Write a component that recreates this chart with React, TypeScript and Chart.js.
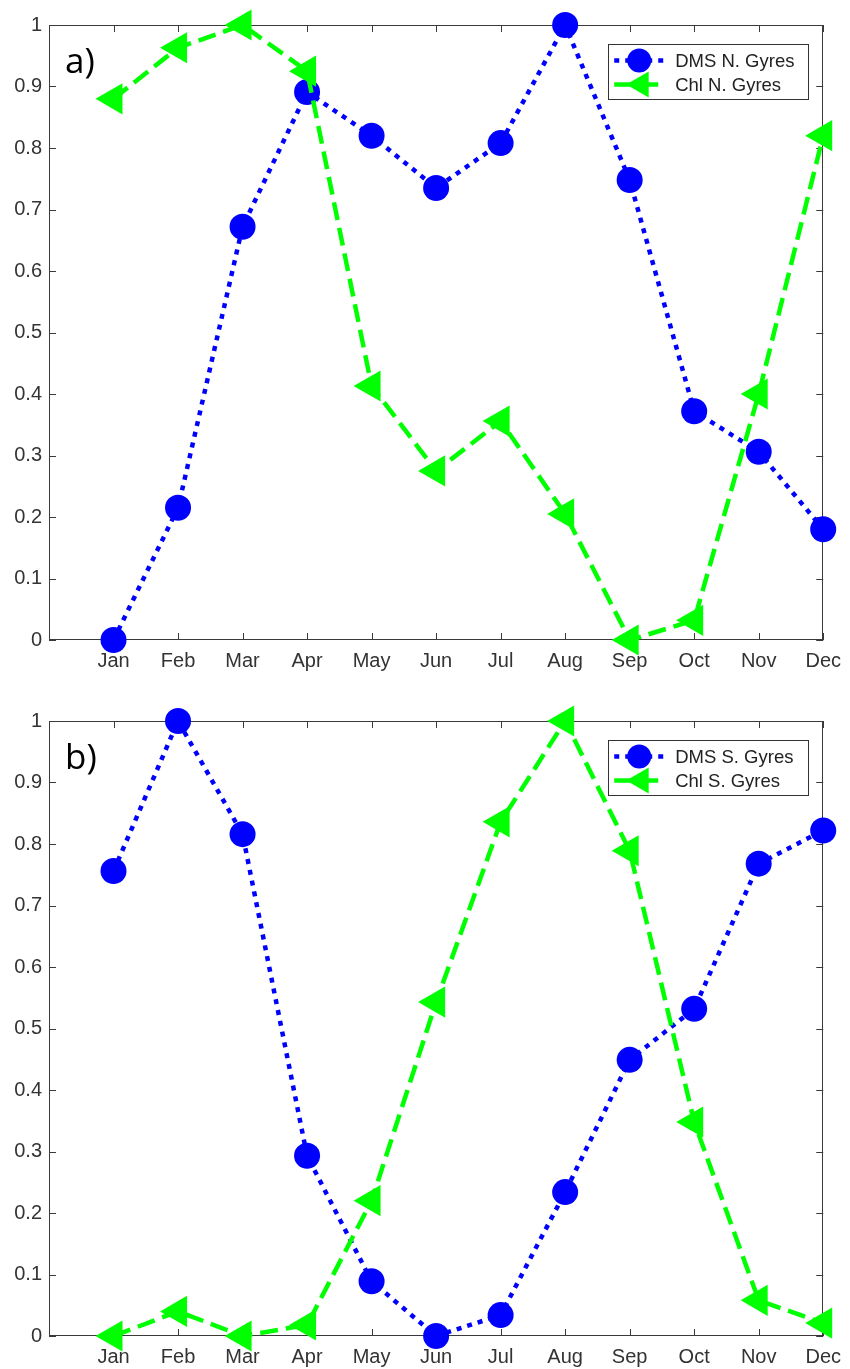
import React, { useEffect, useRef } from 'react';
import { Chart, registerables } from 'chart.js';

Chart.register(...registerables);

const months = ['Jan', 'Feb', 'Mar', 'Apr', 'May', 'Jun', 'Jul', 'Aug', 'Sep', 'Oct', 'Nov', 'Dec'];
const monthPositions = [1, 2, 3, 4, 5, 6, 7, 8, 9, 10, 11, 12];
const yTickValues = [0, 0.1, 0.2, 0.3, 0.4, 0.5, 0.6, 0.7, 0.8, 0.9, 1];

const dmsNorth = [0.0, 0.215, 0.672, 0.891, 0.82, 0.735, 0.808, 1.0, 0.748, 0.372, 0.306, 0.18];
const chlNorth = [0.88, 0.963, 1.0, 0.925, 0.413, 0.275, 0.356, 0.205, 0.0, 0.032, 0.4, 0.82];
const dmsSouth = [0.756, 1.0, 0.816, 0.293, 0.089, 0.0, 0.034, 0.234, 0.449, 0.532, 0.768, 0.822];
const chlSouth = [0.0, 0.04, 0.0, 0.018, 0.22, 0.543, 0.836, 1.0, 0.789, 0.348, 0.058, 0.021];

const labelsNorth = ['DMS N. Gyres', 'Chl N. Gyres'];
const labelsSouth = ['DMS S. Gyres', 'Chl S. Gyres'];

const BLUE = '#0000ff';
const GREEN = '#00ff00';
const AXIS = '#3a3a3a';
const TEXT = '#333333';
const TICK_FONT = { family: '"Liberation Sans", Arial, Helvetica, sans-serif', size: 20 };

function drawTriangleLeft(ctx: CanvasRenderingContext2D, x: number, y: number, r: number) {
  ctx.beginPath();
  ctx.moveTo(x - r, y);
  ctx.lineTo(x + r / 2, y - (r * Math.sqrt(3)) / 2);
  ctx.lineTo(x + r / 2, y + (r * Math.sqrt(3)) / 2);
  ctx.closePath();
  ctx.fill();
}

type PanelProps = {
  top: number;
  height: number;
  padTop: number;
  xAxisHeight: number;
  panelLabel: string;
  dms: number[];
  chl: number[];
  names: string[];
};

function Panel({ top, height, padTop, xAxisHeight, panelLabel, dms, chl, names }: PanelProps) {
  const ref = useRef<HTMLCanvasElement | null>(null);

  useEffect(() => {
    if (!ref.current) return;
    const boxPlugin = {
      id: 'boxPlugin',
      beforeDatasetsDraw(chart: any) {
        const { ctx, chartArea: a, scales } = chart;
        const xs = scales.x;
        const ys = scales.y;
        ctx.save();
        ctx.strokeStyle = AXIS;
        ctx.lineWidth = 1;
        ctx.strokeRect(Math.round(a.left) + 0.5, Math.round(a.top) + 0.5, Math.round(a.right - a.left) - 1, Math.round(a.bottom - a.top) - 1);
        const tl = 7;
        ctx.beginPath();
        monthPositions.forEach((m) => {
          const px = Math.round(xs.getPixelForValue(m)) + 0.5;
          ctx.moveTo(px, a.bottom);
          ctx.lineTo(px, a.bottom - tl);
          ctx.moveTo(px, a.top);
          ctx.lineTo(px, a.top + tl);
        });
        yTickValues.forEach((v) => {
          const py = Math.round(ys.getPixelForValue(v)) + 0.5;
          ctx.moveTo(a.left, py);
          ctx.lineTo(a.left + tl, py);
          ctx.moveTo(a.right, py);
          ctx.lineTo(a.right - tl, py);
        });
        ctx.stroke();
        ctx.restore();
      },
      afterDraw(chart: any) {
        const { ctx, chartArea: a } = chart;
        ctx.save();
        // panel label
        ctx.fillStyle = '#000000';
        ctx.font = '35px "Open Sans", "Noto Sans", sans-serif';
        ctx.textAlign = 'left';
        ctx.textBaseline = 'alphabetic';
        ctx.fillText(panelLabel, a.left + 16, a.top + 48);
        // legend
        const bx = a.right - 215;
        const by = a.top + 18.5;
        const bw = 200;
        const bh = 55;
        ctx.fillStyle = '#ffffff';
        ctx.fillRect(bx, by, bw, bh);
        ctx.strokeStyle = '#333333';
        ctx.lineWidth = 1;
        ctx.strokeRect(Math.round(bx) + 0.5, Math.round(by) + 0.5, bw, bh);
        const rows = [by + 17, by + 41];
        const lx0 = bx + 6;
        const lx1 = bx + 56;
        const mx = bx + 31;
        // DMS row
        ctx.strokeStyle = BLUE;
        ctx.lineWidth = 4.5;
        ctx.setLineDash([5, 6]);
        ctx.beginPath();
        ctx.moveTo(lx0, rows[0]);
        ctx.lineTo(lx1, rows[0]);
        ctx.stroke();
        ctx.fillStyle = BLUE;
        ctx.beginPath();
        ctx.arc(mx, rows[0], 12, 0, Math.PI * 2);
        ctx.fill();
        // Chl row
        ctx.strokeStyle = GREEN;
        ctx.setLineDash([18, 8]);
        ctx.beginPath();
        ctx.moveTo(lx0, rows[1]);
        ctx.lineTo(lx1, rows[1]);
        ctx.stroke();
        ctx.setLineDash([]);
        ctx.fillStyle = GREEN;
        drawTriangleLeft(ctx, mx + 2, rows[1], 15);
        // texts
        ctx.fillStyle = '#222222';
        ctx.font = '18.5px "Liberation Sans", Arial, Helvetica, sans-serif';
        ctx.textBaseline = 'middle';
        ctx.fillText(names[0], bx + 67, rows[0] + 1);
        ctx.fillText(names[1], bx + 67, rows[1] + 1);
        ctx.restore();
      },
    };

    const chart = new Chart(ref.current, {
      type: 'line',
      data: {
        datasets: [
          {
            label: names[0],
            data: monthPositions.map((m, i) => ({ x: m, y: dms[i] })),
            borderColor: BLUE,
            backgroundColor: BLUE,
            borderWidth: 4.5,
            borderDash: [5, 6],
            pointStyle: 'circle',
            pointRadius: 13,
            pointBorderWidth: 0,
            pointBackgroundColor: BLUE,
            tension: 0,
            clip: false as any,
            order: 2,
          },
          {
            label: names[1],
            data: monthPositions.map((m, i) => ({ x: m, y: chl[i] })),
            borderColor: GREEN,
            backgroundColor: GREEN,
            borderWidth: 4.5,
            borderDash: [18, 8],
            pointStyle: 'triangle',
            pointRotation: -90,
            pointRadius: 18,
            pointBorderWidth: 0,
            pointBackgroundColor: GREEN,
            tension: 0,
            clip: false as any,
            order: 1,
          },
        ],
      },
      options: {
        animation: false,
        responsive: false,
        maintainAspectRatio: false,
        layout: { padding: { left: 0, right: 24, top: padTop, bottom: 0 } },
        plugins: { legend: { display: false }, tooltip: { enabled: false }, title: { display: false } },
        scales: {
          x: {
            type: 'linear',
            min: 0,
            max: 12,
            grid: { display: false, drawTicks: false },
            border: { display: false },
            afterFit: (scale: any) => {
              scale.height = xAxisHeight;
            },
            afterBuildTicks: (scale: any) => {
              scale.ticks = monthPositions.map((v) => ({ value: v }));
            },
            ticks: {
              autoSkip: false,
              maxRotation: 0,
              padding: 9,
              color: TEXT,
              font: TICK_FONT,
              callback: (v: any) => {
                const n = Number(v);
                return n >= 1 && n <= 12 ? months[n - 1] : '';
              },
            },
          },
          y: {
            type: 'linear',
            min: 0,
            max: 1,
            grid: { display: false, drawTicks: false },
            border: { display: false },
            afterFit: (scale: any) => {
              scale.width = 49;
            },
            afterBuildTicks: (scale: any) => {
              scale.ticks = yTickValues.map((v) => ({ value: v }));
            },
            ticks: {
              padding: 7,
              color: TEXT,
              font: TICK_FONT,
              callback: (v: any) => {
                const n = Number(v);
                if (n === 0) return '0';
                if (n === 1) return '1';
                return n.toFixed(1);
              },
            },
          },
        },
      } as any,
      plugins: [boxPlugin],
    });
    return () => chart.destroy();
  }, []);

  return (
    <canvas
      ref={ref}
      width={850}
      height={height}
      style={{ position: 'absolute', left: 0, top, width: 850, height, display: 'block' }}
    />
  );
}

export default function App() {
  return (
    <div style={{ position: 'absolute', left: 0, top: 0, width: 850, height: 1369, background: '#ffffff' }}>
      <Panel top={0} height={684} padTop={25} xAxisHeight={44} panelLabel="a)" dms={dmsNorth} chl={chlNorth} names={labelsNorth} />
      <Panel top={684} height={685} padTop={37} xAxisHeight={33} panelLabel="b)" dms={dmsSouth} chl={chlSouth} names={labelsSouth} />
    </div>
  );
}
